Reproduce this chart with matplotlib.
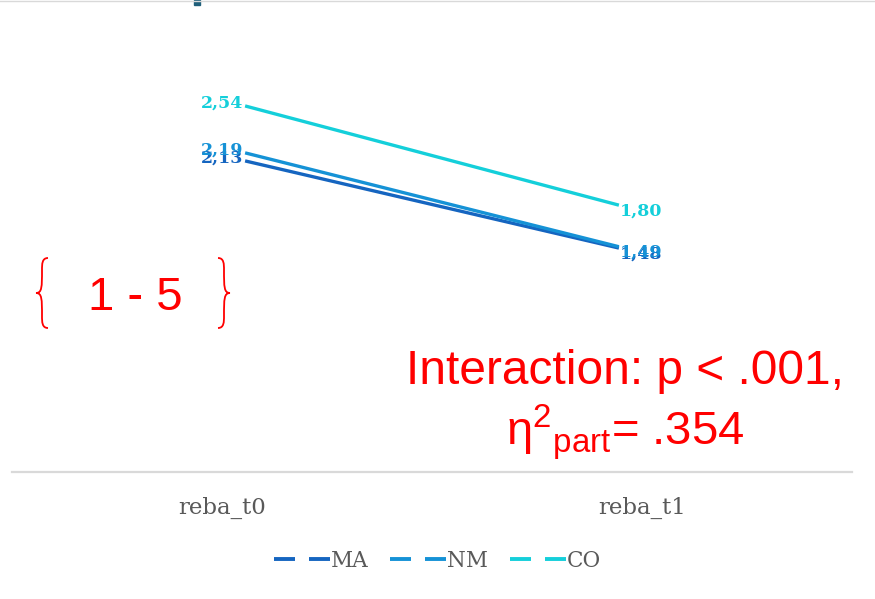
import matplotlib
matplotlib.use('Agg')
import matplotlib.pyplot as plt
from matplotlib.lines import Line2D
from matplotlib.patches import Rectangle, PathPatch
from matplotlib.path import Path

# Data
times = ['reba_t0', 'reba_t1']
groups = ['MA', 'NM', 'CO']
ma_vals = [2.13, 1.48]
nm_vals = [2.19, 1.49]
co_vals = [2.54, 1.80]
colors = ['#1565C0', '#1592D6', '#14CFDA']

plt.rcParams['mathtext.fontset'] = 'custom'
plt.rcParams['mathtext.rm'] = 'Liberation Sans'
plt.rcParams['mathtext.it'] = 'Liberation Sans:italic'

W, H = 875, 599
fig = plt.figure(figsize=(W / 100, H / 100), dpi=100)
ax = fig.add_axes([12 / W, (H - 472) / H, 840 / W, 472 / H])
ax.set_xlim(-0.5, 1.5)
ax.set_ylim(-0.19, 3.33)

inset = 0.055
xs = [0 + inset, 1 - inset]
series = [ma_vals, nm_vals, co_vals]
fmt = lambda v: f'{v:.2f}'.replace('.', ',')
for vals, col in zip(series, colors):
    ax.plot(xs, vals, color=col, lw=2.4, solid_capstyle='butt')
    ax.annotate(fmt(vals[0]), (xs[0], vals[0]), xytext=(-1, 2), textcoords='offset points',
                ha='right', va='center', fontsize=12.5, fontweight='bold',
                family='DejaVu Serif', color=col)
    ax.annotate(fmt(vals[1]), (xs[1], vals[1]), xytext=(1, -4), textcoords='offset points',
                ha='left', va='center', fontsize=12.5, fontweight='bold',
                family='DejaVu Serif', color=col)

for s in ['top', 'left', 'right']:
    ax.spines[s].set_visible(False)
ax.spines['bottom'].set_color('#d9d9d9')
ax.spines['bottom'].set_linewidth(1.6)
ax.set_yticks([])
ax.set_xticks([0, 1])
ax.set_xticklabels(times, family='DejaVu Serif', fontsize=16.5, color='#595959')
ax.tick_params(axis='x', length=0, pad=18)
ax.patch.set_alpha(0)

# legend
handles = [Line2D([0], [0], color=c, lw=2.8, linestyle=(0, (5.4, 3.6))) for c in colors]
fig.legend(handles, groups, loc='center', bbox_to_anchor=(0.5, 1 - 561 / H), ncol=3,
           frameon=False, handlelength=2.6, handletextpad=0.05, columnspacing=1.0,
           prop={'family': 'DejaVu Serif', 'size': 15.5}, labelcolor='#595959')

# annotations
red = '#ff0000'


def brace(xc, ytop, ybot, w, sign):
    # thin curly brace in pixel coords (sign=1 opens right, -1 opens left)
    ym = (ytop + ybot) / 2
    d = w * sign
    P = [(xc + d, ytop), (xc, ytop), (xc, ytop + 6), (xc, ytop + 12),
         (xc, ym - 6), (xc, ym), (xc - d, ym),
         (xc, ym), (xc, ym + 6), (xc, ybot - 12),
         (xc, ybot - 6), (xc, ybot), (xc + d, ybot)]
    codes = [Path.MOVETO, Path.CURVE4, Path.CURVE4, Path.CURVE4,
             Path.CURVE4, Path.CURVE4, Path.CURVE4,
             Path.CURVE4, Path.CURVE4, Path.CURVE4,
             Path.CURVE4, Path.CURVE4, Path.CURVE4]
    verts = [(x / W, 1 - y / H) for x, y in P]
    fig.add_artist(PathPatch(Path(verts, codes), fill=False, ec=red, lw=1.3,
                             transform=fig.transFigure))


brace(42, 258, 328, 6, 1)
brace(224, 258, 328, 6, -1)
fig.text(135 / W, 1 - 298 / H, '1 - 5', fontsize=34, color=red, family='Liberation Sans',
         ha='center', va='center')
fig.text(625 / W, 1 - 372 / H, 'Interaction: p < .001,', fontsize=34.5, color=red,
         family='Liberation Sans', ha='center', va='center')
fig.text(625 / W, 1 - 432 / H, r'$\mathrm{\eta}^{2}{}_{\mathrm{part}}$= .354', fontsize=34,
         color=red, family='Liberation Sans', ha='center', va='center')

# frame bits at top
fig.add_artist(Line2D([0, 1], [1 - 0.5 / H, 1 - 0.5 / H], color='#d9d9d9', lw=1,
                      transform=fig.transFigure))
fig.add_artist(Rectangle((194 / W, 1 - 5 / H), 6 / W, 5 / H, color='#1f5f7a',
                         transform=fig.transFigure))

fig.savefig('out.png', dpi=100)
